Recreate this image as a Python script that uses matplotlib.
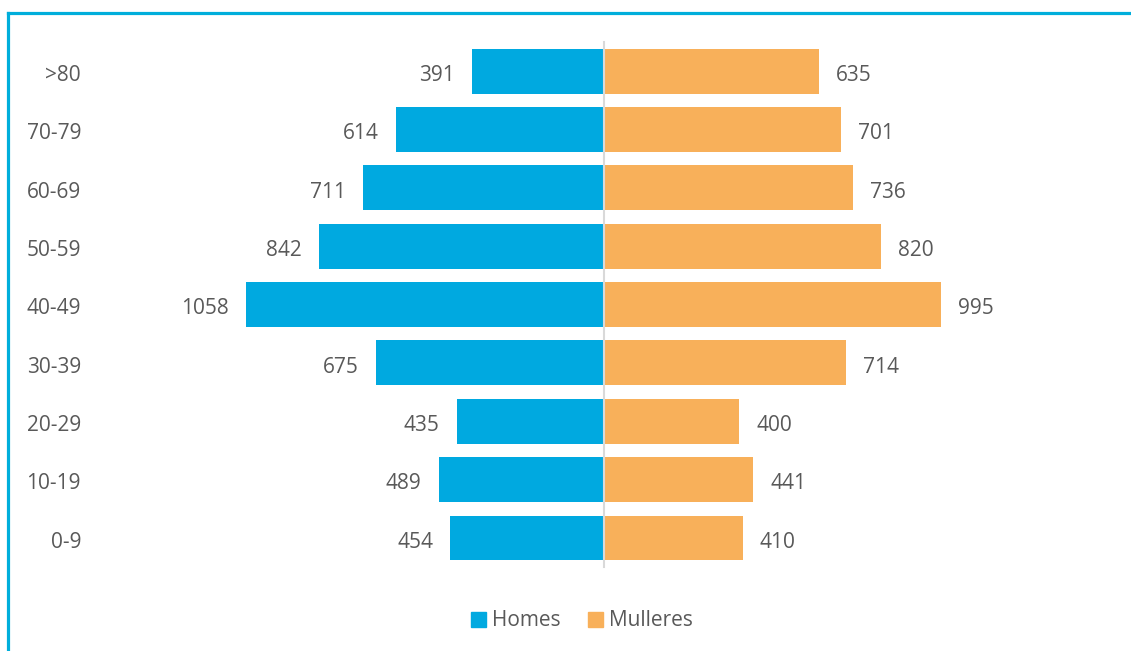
import matplotlib
matplotlib.use("Agg")
import matplotlib.pyplot as plt
from matplotlib.lines import Line2D
from matplotlib.patches import Patch

categories = ["0-9", "10-19", "20-29", "30-39", "40-49", "50-59", "60-69", "70-79", ">80"]
homes = [454, 489, 435, 675, 1058, 842, 711, 614, 391]
mulleres = [410, 441, 400, 714, 995, 820, 736, 701, 635]

W, H = 1131, 651
blue = "#00A9E0"
orange = "#F8B05A"
txt = "#595959"

plt.rcParams["font.family"] = ["Open Sans", "DejaVu Sans"]
fig = plt.figure(figsize=(W / 100, H / 100), dpi=100)
ax = fig.add_axes([0, 0, 1, 1])
ax.set_axis_off()

scale = 0.3384  # px per unit
cx = 604
ax.set_xlim(-cx / scale, (W - cx) / scale)
step = 58.35
y0 = 538
ax.set_ylim((y0 - H) / step, y0 / step)

ypos = list(range(len(categories)))
ax.barh(ypos, [-v for v in homes], height=0.77, color=blue, zorder=2)
ax.barh(ypos, mulleres, height=0.77, color=orange, zorder=2)

# center line
ax.plot([0, 0], [(y0 - 567) / step, (y0 - 42) / step], color="#D9D9D9", lw=1.5, zorder=3)

off = 17 / scale
dy = 9.8 / step
for i, (h, m, c) in enumerate(zip(homes, mulleres, categories)):
    ax.text(-h - off, i - dy, str(h), ha="right", va="baseline", fontsize=15, color=txt)
    ax.text(m + off, i - dy, str(m), ha="left", va="baseline", fontsize=15, color=txt)
    ax.text((81 - cx) / scale, i - dy, c, ha="right", va="baseline", fontsize=15, color=txt)

handles = [Patch(color=blue, label="Homes"), Patch(color=orange, label="Mulleres")]
fig.legend(handles=handles, loc="center", bbox_to_anchor=(582 / W, 1 - 621 / H), ncol=2,
           frameon=False, fontsize=15, handlelength=0.7, handleheight=0.7,
           handletextpad=0.3, columnspacing=1.3, labelcolor=txt)

# border
bc = "#00AEDB"
fig.add_artist(Line2D([8 / W, 1], [1 - 13 / H, 1 - 13 / H], color=bc, lw=2.3, transform=fig.transFigure))
fig.add_artist(Line2D([8 / W, 8 / W], [0, 1 - 13 / H], color=bc, lw=2.3, transform=fig.transFigure))

fig.savefig("out.png", dpi=100)
